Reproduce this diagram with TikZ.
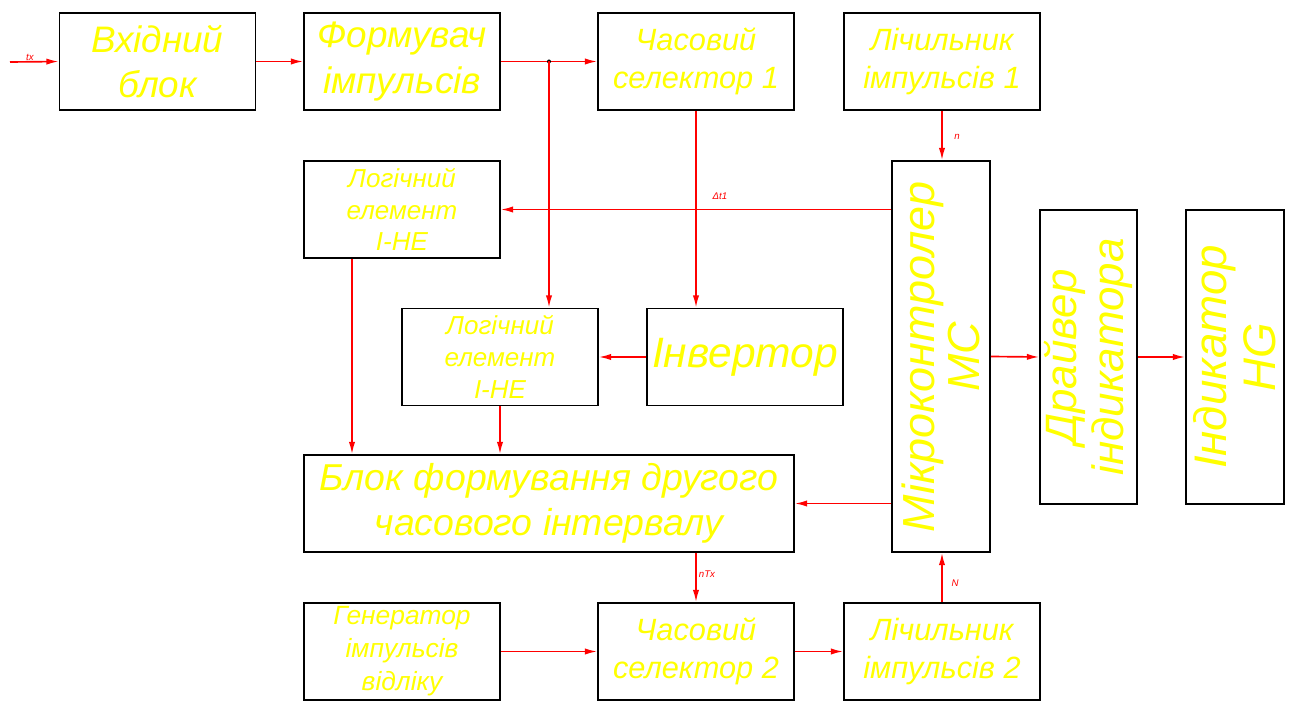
\documentclass[tikz,border=0pt]{standalone}
\usepackage{fontspec}
\setmainfont{Liberation Sans}
\usetikzlibrary{arrows.meta,calc}
\definecolor{ylw}{RGB}{255,255,0}
\definecolor{rd}{RGB}{255,0,0}
\tikzset{
  box/.style={draw=black, line width=1pt, fill=white, text=ylw, align=center, inner sep=0pt},
  sbox/.style={box, minimum width=3.92cm, minimum height=1.94cm},
  fbig/.style={font=\itshape\fontsize{21}{26}\selectfont},
  fmid/.style={font=\itshape\fontsize{17.5}{21.5}\selectfont},
  fsml/.style={font=\itshape\fontsize{14.8}{18}\selectfont},
  vtxt/.style={text=ylw, rotate=90, align=center, inner sep=0pt},
  arr/.style={draw=rd, line width=0.95pt, -{Latex[length=7pt,width=3.6pt]}},
  lbl/.style={text=rd, font=\itshape\fontsize{5.5}{6}\selectfont, inner sep=0pt}
}
\begin{document}
\begin{tikzpicture}[x=0.02cm,y=-0.02cm]
\useasboundingbox (0,0) rectangle (1292,702);
\fill[white] (0,0) rectangle (1292,702);
% boxes
\node[sbox, fbig] (vh) at (157.5,61.5) {Вхідний\\блок};
\node[sbox, fbig] (form) at (402,61.5) {Формувач\\імпульсів};
\node[sbox, fmid] (cs1) at (696,61.5) {Часовий\\селектор 1};
\node[sbox, fmid] (cnt1) at (942,61.5) {Лічильник\\імпульсів 1};
\node[sbox, fsml] (log1) at (402,209.5) {Логічний\\елемент\\І-НЕ};
\node[sbox, fsml] (log2) at (500,357) {Логічний\\елемент\\І-НЕ};
\node[sbox, font=\itshape\fontsize{24.2}{29}\selectfont] (inv) at (745,357) {Інвертор};
\node[box, minimum width=9.8cm, minimum height=1.94cm, font=\itshape\fontsize{21.3}{25.5}\selectfont] (blk) at (549,503.5) {Блок формування другого\\часового інтервалу};
\node[sbox, font=\itshape\fontsize{15}{18.8}\selectfont] (gen) at (402,651.5) {Генератор\\імпульсів\\відліку};
\node[sbox, fmid] (cs2) at (696,651.5) {Часовий\\селектор 2};
\node[sbox, fmid] (cnt2) at (942,651.5) {Лічильник\\імпульсів 2};
\node[box, minimum width=1.96cm, minimum height=7.82cm] (mc) at (941,356.5) {};
\node[vtxt, font=\itshape\fontsize{25.6}{26}\selectfont] (mct) at (mc.center) {Мікроконтролер\\МС};
\node[box, minimum width=1.94cm, minimum height=5.88cm] (drv) at (1088.5,357) {};
\node[vtxt, font=\itshape\fontsize{25}{27}\selectfont] (drvt) at (drv.center) {Драйвер\\індикатора};
\node[box, minimum width=1.96cm, minimum height=5.88cm] (ind) at (1235,357) {};
\node[vtxt, font=\itshape\fontsize{26}{28}\selectfont] (indt) at (ind.center) {Індикатор\\HG};
% connectors
\coordinate (in) at (10,62);
\draw[arr] (in) -- (vh.west);
\node[lbl] (ltx) at (30,57) {tx};
\draw[arr] (vh.east) -- (form.west);
\draw[arr] (form.east) -- (cs1.west);
\coordinate (j) at (549,61.5);
\fill (j) circle (2);
\draw[arr] (j) -- (j |- log2.north);
\draw[arr] (cs1.south) -- (cs1.south |- inv.north);
\draw[arr] (cnt1.south) -- (cnt1.south |- mc.north);
\node[lbl] (ln) at (957,137) {n};
\draw[arr] (log1.east -| mc.west) -- (log1.east);
\node[lbl] (ldt) at (720,196) {Δt1};
\draw[arr] (inv.west) -- (log2.east);
\coordinate (l1s) at ($(log1.south)+(-50,0)$);
\draw[arr] (l1s) -- (l1s |- blk.north);
\draw[arr] (log2.south) -- (log2.south |- blk.north);
\draw[arr] (blk.east -| mc.west) -- (blk.east);
\draw[arr] (mc.east) -- (drv.west);
\draw[arr] (drv.east) -- (ind.west);
\draw[arr] (blk.south -| cs2.north) -- (cs2.north);
\node[lbl] (lntx) at (707,574) {nTx};
\draw[arr] (gen.east) -- (cs2.west);
\draw[arr] (cs2.east) -- (cnt2.west);
\draw[arr] (cnt2.north) -- (cnt2.north |- mc.south);
\node[lbl] (lN) at (955,583) {N};
\end{tikzpicture}
\end{document}
